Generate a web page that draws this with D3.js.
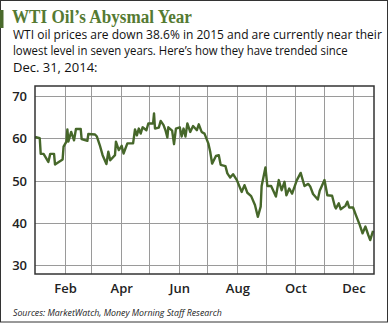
<!DOCTYPE html>
<html><head><meta charset="utf-8">
<script src="https://cdn.jsdelivr.net/npm/d3@7"></script>
<style>body{margin:0;background:#fff}svg{display:block}</style>
</head><body>
<svg id="c" width="390" height="324"></svg>
<script>
const title = "WTI Oil\u2019s Abysmal Year";
const subtitle = ["WTI oil prices are down 38.6% in 2015 and are currently near their",
  "lowest level in seven years. Here\u2019s how they have trended since",
  "Dec. 31, 2014:"];
const source = "Sources: MarketWatch, Money Morning Staff Research";
const yTicks = [30, 40, 50, 60, 70];
const monthLabels = ["Feb", "Apr", "Jun", "Aug", "Oct", "Dec"];
const dates = ["2015-01-01","2015-01-06","2015-01-07","2015-01-10","2015-01-15","2015-01-17","2015-01-21","2015-01-22","2015-01-30","2015-01-31",
"2015-02-03","2015-02-04","2015-02-05","2015-02-08","2015-02-11","2015-02-13","2015-02-18","2015-02-19","2015-02-25","2015-02-26",
"2015-03-05","2015-03-07","2015-03-10","2015-03-13","2015-03-17","2015-03-19","2015-03-21","2015-03-26","2015-03-27","2015-03-30",
"2015-04-02","2015-04-04","2015-04-08","2015-04-14","2015-04-16","2015-04-18","2015-04-20","2015-04-22","2015-04-24","2015-04-28","2015-04-30",
"2015-05-05","2015-05-06","2015-05-07","2015-05-11","2015-05-13","2015-05-16","2015-05-18","2015-05-20","2015-05-21","2015-05-25","2015-05-27","2015-05-29",
"2015-06-02","2015-06-04","2015-06-06","2015-06-08","2015-06-10","2015-06-13","2015-06-16","2015-06-20","2015-06-22","2015-06-25","2015-06-28",
"2015-07-02","2015-07-04","2015-07-06","2015-07-10","2015-07-13","2015-07-15","2015-07-20","2015-07-22","2015-07-25","2015-07-28",
"2015-08-01","2015-08-06","2015-08-09","2015-08-12","2015-08-16","2015-08-20","2015-08-23","2015-08-26","2015-08-27","2015-08-31",
"2015-09-02","2015-09-06","2015-09-11","2015-09-14","2015-09-17","2015-09-20","2015-09-22","2015-09-25","2015-09-28",
"2015-10-03","2015-10-07","2015-10-11","2015-10-15","2015-10-17","2015-10-20","2015-10-25","2015-10-27",
"2015-11-01","2015-11-04","2015-11-09","2015-11-12","2015-11-13","2015-11-16","2015-11-18","2015-11-23","2015-11-25","2015-11-27",
"2015-12-01","2015-12-04","2015-12-08","2015-12-11","2015-12-14","2015-12-17","2015-12-19","2015-12-22"];
const prices = [60.3,60.0,56.3,56.3,54.4,56.3,56.3,53.8,55.0,58.0,
59.2,62.1,59.2,61.5,59.5,62.2,62.2,59.8,59.4,61.0,
60.9,60.4,58.4,56.0,53.9,56.8,54.8,56.0,59.2,57.2,
58.2,56.4,58.8,58.8,62.1,60.7,62.3,61.1,62.6,61.9,63.5,
63.5,65.9,62.3,62.5,64.1,63.1,61.9,60.2,62.6,61.8,58.6,62.3,
62.6,60.4,62.3,60.4,63.5,61.5,62.9,61.9,63.3,61.5,61.1,
58.8,56.8,54.0,55.8,56.0,53.7,53.4,51.7,50.7,51.5,
50.1,47.3,48.9,47.1,46.3,44.2,41.4,43.8,48.7,53.1,
48.7,48.7,46.2,50.1,47.7,49.7,46.5,48.1,46.9,
50.1,51.8,48.7,49.2,48.6,46.8,45.5,47.6,
50.1,46.5,46.4,43.8,43.4,44.6,43.2,44.0,45.0,43.6,
43.6,41.8,39.5,37.5,39.1,37.1,35.9,38.1];

const svg = d3.select("#c");
const parse = d3.utcParse("%Y-%m-%d");
const data = dates.map((d, i) => ({date: parse(d), v: prices[i]}));

const x = d3.scaleUtc().domain([parse("2015-01-01"), parse("2015-12-23")]).range([35, 374]);
const y = d3.scaleLinear().domain([27.87, 72.37]).range([274, 86]);

// horizontally squeeze a text to a target width (condensed look of the original)
function fitWidth(sel, x0, w) {
  const n = sel.node().getComputedTextLength();
  if (w && n > 0) sel.attr("transform", `translate(${x0},0) scale(${w / n},1) translate(${-x0},0)`);
}

// outer frame
svg.append("rect").attr("x", 0.5).attr("y", 0.5).attr("width", 387).attr("height", 321.5)
  .attr("fill", "none").attr("stroke", "#333").attr("stroke-width", 1);
svg.append("rect").attr("x", 0).attr("y", 10).attr("width", 3.5).attr("height", 18).attr("fill", "#4a6a2c");

// title & subtitle
const t = svg.append("text").attr("x", 12).attr("y", 23).text(title)
  .attr("font-family", "Liberation Serif, serif").attr("font-weight", "bold").attr("font-size", 19)
  .attr("fill", "#557a32");
fitWidth(t, 12, 180);
svg.selectAll("text.sub").data(subtitle).join("text").attr("class", "sub")
  .attr("x", 13).attr("y", (d, i) => 39 + i * 16.5).text(d => d)
  .attr("font-family", "Open Sans, sans-serif").attr("font-size", 13).attr("fill", "#111")
  .each(function(d, i){ fitWidth(d3.select(this), 13, [369, 335, 0][i]); });

// grid
const g = svg.append("g");
g.selectAll("line.h").data(yTicks).join("line").attr("class", "h")
  .attr("x1", 35).attr("x2", 374).attr("y1", d => Math.round(y(d)) + 0.5).attr("y2", d => Math.round(y(d)) + 0.5)
  .attr("stroke", "#9a9a9a").attr("stroke-width", 1);
const months = d3.utcMonth.range(parse("2015-02-01"), parse("2015-12-02"));
g.selectAll("line.v").data(months).join("line").attr("class", "v")
  .attr("x1", d => Math.round(x(d)) + 0.5).attr("x2", d => Math.round(x(d)) + 0.5).attr("y1", 86).attr("y2", 274)
  .attr("stroke", "#9a9a9a").attr("stroke-width", 1);

// line
svg.append("path").datum(data)
  .attr("d", d3.line().x(d => x(d.date)).y(d => y(d.v)))
  .attr("fill", "none").attr("stroke", "#46672a").attr("stroke-width", 2.4).attr("stroke-linejoin", "round");

// plot frame
svg.append("rect").attr("x", 35).attr("y", 86).attr("width", 339).attr("height", 188)
  .attr("fill", "none").attr("stroke", "#333").attr("stroke-width", 1.5);

// y labels
svg.selectAll("text.yl").data(yTicks).join("text").attr("class", "yl")
  .attr("x", 27).attr("y", d => y(d) + 5).attr("text-anchor", "end").text(d => d)
  .attr("font-family", "Open Sans, sans-serif").attr("font-weight", 600).attr("font-size", 13).attr("fill", "#222");
// x labels
const labelDates = monthLabels.map(m => d3.utcParse("%b %Y")(m + " 2015"));
svg.selectAll("text.xl").data(labelDates).join("text").attr("class", "xl")
  .attr("x", d => x(d) + 1).attr("y", 293).attr("text-anchor", "middle").text(d => d3.utcFormat("%b")(d))
  .attr("font-family", "Open Sans, sans-serif").attr("font-weight", 600).attr("font-size", 13).attr("fill", "#222");

// source
const s = svg.append("text").attr("x", 13).attr("y", 316).text(source)
  .attr("font-family", "Open Sans, sans-serif").attr("font-style", "italic").attr("font-size", 9.5).attr("fill", "#222");
fitWidth(s, 13, 209);
</script>
</body></html>
